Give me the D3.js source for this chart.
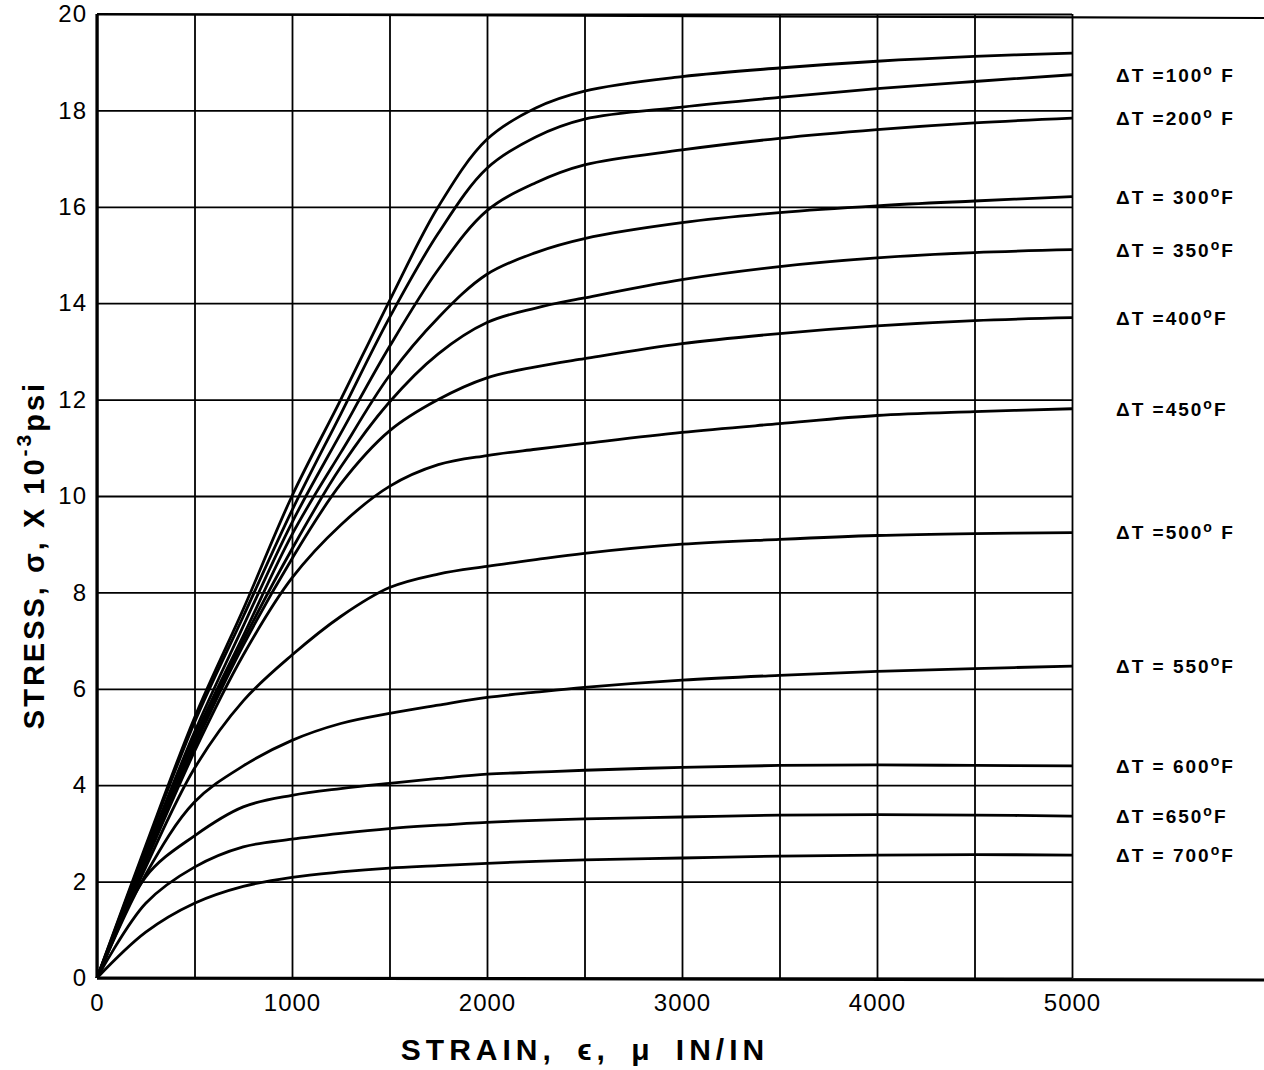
<!DOCTYPE html>
<html>
<head>
<meta charset="utf-8">
<script src="https://cdn.jsdelivr.net/npm/d3@7"></script>
<style>
  body { margin: 0; background: #fff; }
  svg { display: block; }
  text { font-family: "Liberation Sans", Arial, sans-serif; fill: #000; }
</style>
</head>
<body>
<div id="chart"></div>
<script>
// strain in micro in/in, stress in ksi (x 10^-3 psi)
const strain = [0, 250, 500, 750, 1000, 1250, 1500, 1750, 2000, 2250, 2500, 3000, 3500, 4000, 4500, 5000];

const stressTop = [0, 2.75, 5.4, 7.65, 10.0, 12.0, 14.05, 16.0, 17.4, 18.05, 18.4, 18.7, 18.88, 19.02, 19.12, 19.19];
const stress100 = [0, 2.7, 5.3, 7.5, 9.7, 11.7, 13.7, 15.45, 16.8, 17.45, 17.82, 18.07, 18.27, 18.45, 18.6, 18.74];
const stress200 = [0, 2.6, 5.1, 7.3, 9.45, 11.3, 13.1, 14.7, 15.92, 16.5, 16.87, 17.18, 17.42, 17.6, 17.74, 17.84];
const stress300 = [0, 2.55, 5.0, 7.1, 9.2, 10.9, 12.5, 13.7, 14.6, 15.05, 15.34, 15.67, 15.88, 16.02, 16.12, 16.21];
const stress350 = [0, 2.5, 4.9, 7.0, 8.9, 10.6, 11.95, 12.95, 13.6, 13.9, 14.11, 14.49, 14.76, 14.94, 15.05, 15.11];
const stress400 = [0, 2.45, 4.8, 6.9, 8.7, 10.25, 11.35, 12.0, 12.45, 12.68, 12.85, 13.16, 13.37, 13.53, 13.64, 13.7];
const stress450 = [0, 2.4, 4.7, 6.7, 8.3, 9.4, 10.2, 10.65, 10.84, 10.97, 11.09, 11.32, 11.5, 11.67, 11.75, 11.81];
const stress500 = [0, 2.3, 4.35, 5.75, 6.7, 7.5, 8.1, 8.38, 8.54, 8.68, 8.81, 9.0, 9.1, 9.18, 9.22, 9.24];
const stress550 = [0, 2.15, 3.65, 4.4, 4.93, 5.28, 5.49, 5.66, 5.82, 5.93, 6.03, 6.18, 6.28, 6.36, 6.42, 6.47];
const stress600 = [0, 2.1, 2.95, 3.55, 3.79, 3.93, 4.04, 4.14, 4.23, 4.27, 4.31, 4.37, 4.41, 4.42, 4.41, 4.4];
const stress650 = [0, 1.55, 2.3, 2.72, 2.88, 3.0, 3.1, 3.17, 3.23, 3.27, 3.3, 3.34, 3.38, 3.39, 3.38, 3.36];
const stress700 = [0, 0.95, 1.55, 1.9, 2.09, 2.2, 2.28, 2.33, 2.38, 2.42, 2.45, 2.49, 2.53, 2.55, 2.56, 2.55];

const deltaT = [null, "=100° F", "=200° F", "= 300°F", "= 350°F", "=400°F", "=450°F", "=500° F", "= 550°F", "= 600°F", "=650°F", "= 700°F"];

const xTicks = [0, 1000, 2000, 3000, 4000, 5000];
const yTicks = [0, 2, 4, 6, 8, 10, 12, 14, 16, 18, 20];

const W = 1264, H = 1070;

const series = [stressTop, stress100, stress200, stress300, stress350, stress400,
    stress450, stress500, stress550, stress600, stress650, stress700]
    .map((s, i) => ({label: deltaT[i], pts: strain.map((e, k) => [e, s[k]])}));

const x = d3.scaleLinear().domain([0, 5000]).range([97, 1072]);
const y = d3.scaleLinear().domain([0, 20]).range([978, 14]);

const svg = d3.select("#chart").append("svg")
    .attr("width", W)
    .attr("height", H);

// grid
const vGrid = svg.append("g")
    .attr("transform", "translate(0," + y(0) + ")")
    .call(d3.axisBottom(x).tickValues(d3.range(0, 5001, 500)).tickSize(-(y(0) - y(20))).tickFormat(""));
const hGrid = svg.append("g")
    .attr("transform", "translate(" + x(0) + ",0)")
    .call(d3.axisLeft(y).tickValues(d3.range(0, 21, 2)).tickSize(-(x(5000) - x(0))).tickFormat(""));
svg.selectAll(".domain").remove();
vGrid.selectAll("line").attr("stroke", "#000").attr("stroke-width", 1.8);
hGrid.selectAll("line").attr("stroke", "#000").attr("stroke-width", 1.8);

// frame: left axis, bottom axis and top line run out to the page edge
svg.append("line").attr("x1", x(0)).attr("x2", x(0)).attr("y1", y(20)).attr("y2", y(0))
    .attr("stroke", "#000").attr("stroke-width", 3.2);
svg.append("line").attr("x1", x(0)).attr("x2", W).attr("y1", y(0)).attr("y2", y(0) + 2)
    .attr("stroke", "#000").attr("stroke-width", 3.2);
svg.append("line").attr("x1", x(0)).attr("x2", W).attr("y1", y(20)).attr("y2", y(20) + 4)
    .attr("stroke", "#000").attr("stroke-width", 2.2);

// tick labels
const xAxis = svg.append("g")
    .attr("transform", "translate(0," + y(0) + ")")
    .call(d3.axisBottom(x).tickValues(xTicks).tickSize(0).tickPadding(16).tickFormat(d3.format("d")));
const yAxis = svg.append("g")
    .attr("transform", "translate(" + x(0) + ",0)")
    .call(d3.axisLeft(y).tickValues(yTicks).tickSize(0).tickPadding(10));
xAxis.select(".domain").remove();
yAxis.select(".domain").remove();
xAxis.selectAll("text").attr("font-size", 24).attr("fill", "#000").attr("letter-spacing", 1);
yAxis.selectAll("text").attr("font-size", 24).attr("fill", "#000").attr("letter-spacing", 1);

// curves
const line = d3.line()
    .x(d => x(d[0]))
    .y(d => y(d[1]))
    .curve(d3.curveCatmullRom.alpha(0.5));

svg.append("g").selectAll("path")
    .data(series)
    .enter()
    .append("path")
    .attr("d", d => line(d.pts))
    .attr("fill", "none")
    .attr("stroke", "#000")
    .attr("stroke-width", 2.8);

// labels at curve ends, degree sign drawn as a raised small "o"
const lab = svg.append("g").selectAll("text")
    .data(series.filter(d => d.label))
    .enter()
    .append("text")
    .attr("x", 1116)
    .attr("y", d => y(d.pts[d.pts.length - 1][1]))
    .attr("dy", "0.36em")
    .attr("font-size", 19)
    .attr("font-weight", "bold")
    .attr("letter-spacing", 2);
lab.append("tspan").text(d => "ΔT " + d.label.split("°")[0]);
lab.append("tspan").attr("dy", -7).attr("font-size", 14).text("o");
lab.append("tspan").attr("dy", 7).text(d => d.label.split("°")[1]);

// axis titles
svg.append("text")
    .attr("x", 585)
    .attr("y", 1060)
    .attr("text-anchor", "middle")
    .attr("font-size", 30)
    .attr("font-weight", "bold")
    .attr("letter-spacing", 5)
    .attr("word-spacing", 8)
    .text("STRAIN, ϵ, μ IN/IN");

const yt = svg.append("text")
    .attr("transform", "translate(44,555) rotate(-90)")
    .attr("text-anchor", "middle")
    .attr("font-size", 29)
    .attr("font-weight", "bold")
    .attr("letter-spacing", 3);
yt.append("tspan").text("STRESS, σ, X 10");
yt.append("tspan").attr("dy", -13).attr("font-size", 21).text("-3");
yt.append("tspan").attr("dy", 13).text("psi");
</script>
</body>
</html>
